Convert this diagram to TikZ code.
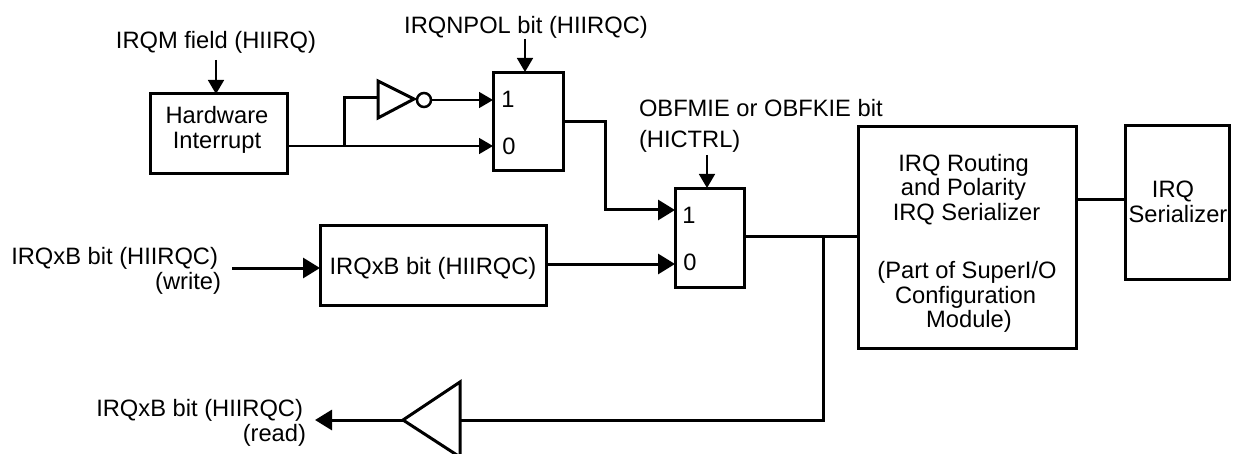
\documentclass[tikz,border=0pt]{standalone}
\usepackage{fontspec}
\setmainfont{Liberation Sans}
\usetikzlibrary{arrows.meta}
\tikzset{
  blk/.style={draw=black,line width=3pt,fill=none,inner sep=0pt,outer sep=0pt},
  lbl/.style={inner sep=0pt,outer sep=0pt,align=center,font=\fontsize{23.7}{24.6}\selectfont},
  lblr/.style={lbl,align=right},
  thinw/.style={line width=1.6pt},
  thickw/.style={line width=3pt},
  gate/.style={line width=3pt,line join=miter},
  tip/.style={-{Triangle[length=17pt,width=20pt]}},
  smalltip/.style={-{Triangle[length=14pt,width=16pt]}},
}
\begin{document}
\begin{tikzpicture}[x=1pt,y=-1pt]
\useasboundingbox (0,0) rectangle (1233,454);
\fill[white] (0,0) rectangle (1233,454);
% blocks
\node[blk,minimum width=137pt,minimum height=80pt] (hw) at (218.5,134) {};
\node[lbl] (hwt) at (217,130) {Hardware\\Interrupt};
\node[blk,minimum width=70pt,minimum height=98pt] (muxa) at (528,122) {};
\node[lbl] (muxa1) at (508,99) {1};
\node[lbl] (muxa0) at (509,146) {0};
\node[blk,minimum width=69pt,minimum height=98pt] (muxb) at (709.5,238) {};
\node[lbl] (muxb1) at (689,215) {1};
\node[lbl] (muxb0) at (690,262) {0};
\node[blk,minimum width=226pt,minimum height=79pt] (reg) at (433,265.5) {};
\node[lbl] (regt) at (433,268) {IRQxB bit (HIIRQC)};
\node[blk,minimum width=218pt,minimum height=221pt] (route) at (967,237.5) {};
\node[lbl] (routea) at (963.5,189.5) {IRQ Routing\\and Polarity\\\hspace*{6pt}IRQ Serializer};
\node[lbl] (routeb) at (965.5,297) {\hspace*{3pt}(Part of SuperI/O\\Configuration\\\hspace*{7pt}Module)};
\node[blk,minimum width=104pt,minimum height=153pt] (ser) at (1177,202.5) {};
\node[lbl] (sert) at (1178,202) {IRQ\hspace*{10pt}\\Serializer};
% free labels
\node[lbl] (irqm) at (216,42) {IRQM field (HIIRQ)};
\node[lbl] (pol) at (526,27) {IRQNPOL bit (HIIRQC)};
\node[lbl,align=left,anchor=west] (obf) at (639,126) {OBFMIE or OBFKIE bit\\[6pt](HICTRL)};
\node[lblr,anchor=east] (wr) at (221,271) {IRQxB bit (HIIRQC)\hspace*{3pt}\\[1pt](write)};
\node[lblr,anchor=east] (rd) at (306,423) {IRQxB bit (HIIRQC)\hspace*{3pt}\\[1pt](read)};
% gates
\coordinate (invin) at (378,98);
\draw[gate] (378,81) -- (414,99) -- (378,118) -- cycle;
\node[draw=black,line width=2.5pt,circle,minimum size=14pt,inner sep=0pt,outer sep=0pt] (bub) at (424,100) {};
\coordinate (bufa) at (403,420);
\coordinate (bufb) at (460,420);
\draw[gate] (460,382) -- (403,420) -- (460,457) -- cycle;
% connectors
\coordinate (hwout) at (hw.east |- 0,146);
\coordinate (branch) at (344,146);
\coordinate (muxa0in) at (muxa.west |- 0,146);
\coordinate (muxa1in) at (muxa.west |- 0,100);
\coordinate (muxaout) at (muxa.east |- 0,122);
\coordinate (bend1) at (605.5,122);
\coordinate (bend2) at (605.5,210);
\coordinate (muxb1in) at (muxb.west |- 0,210);
\coordinate (muxb0in) at (muxb.west |- 0,264);
\coordinate (regout) at (reg.east |- 0,264);
\coordinate (regin) at (reg.west |- 0,268);
\coordinate (wrfree) at (232,268);
\coordinate (muxbout) at (muxb.east |- 0,237);
\coordinate (routein) at (route.west |- 0,237);
\coordinate (junc) at (823.5,237);
\coordinate (jdown) at (823.5,420);
\coordinate (rdfree) at (315,420);
\coordinate (routeout) at (route.east |- 0,200);
\coordinate (serin) at (ser.west |- 0,200);
\coordinate (irqmfree) at (216,60);
\coordinate (polfree) at (525,39);
\coordinate (polto) at (525,72);
\coordinate (obffree) at (707,155);
\coordinate (obfto) at (707,188);
\draw[thinw,smalltip] (irqmfree) -- (irqmfree |- hw.north);
\draw[thinw,smalltip] (polfree) -- (polto);
\draw[thinw,smalltip] (obffree) -- (obfto);
\draw[thinw,smalltip] (hwout) -- (muxa0in);
\draw[thickw,line join=miter] (branch) -- (344,98) -- (invin);
\draw[thinw,smalltip] (bub.east) -- (muxa1in);
\draw[thickw,tip,line join=miter] (muxaout) -- (bend1) -- (bend2) -- (muxb1in);
\draw[thickw,tip] (regout) -- (muxb0in);
\draw[thickw,tip] (wrfree) -- (regin);
\draw[thickw] (muxbout) -- (routein);
\draw[thickw,line join=miter] (junc) -- (jdown) -- (bufb);
\draw[thickw,tip] (bufa) -- (rdfree);
\draw[thickw] (routeout) -- (serin);
\end{tikzpicture}
\end{document}
